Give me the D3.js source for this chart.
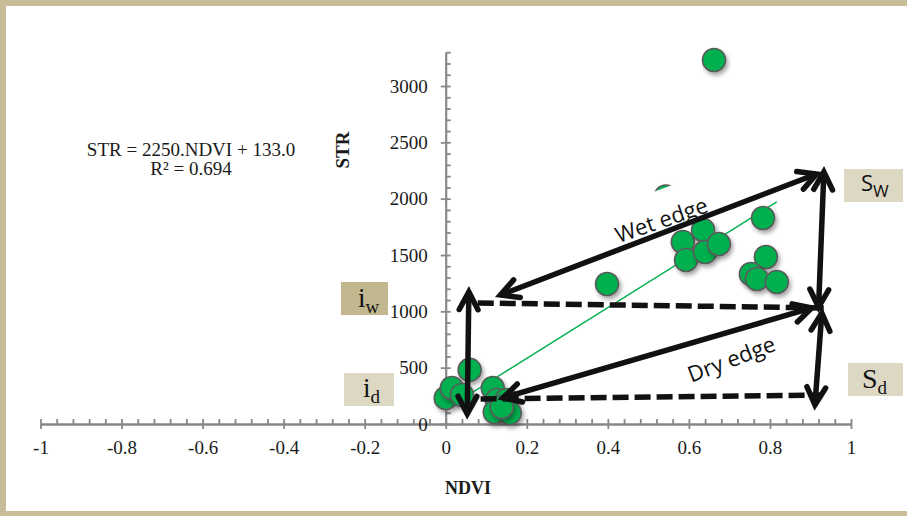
<!DOCTYPE html>
<html>
<head>
<meta charset="utf-8">
<script src="https://cdn.jsdelivr.net/npm/d3@7"></script>
<style>
body { margin: 0; background: #fff; overflow: hidden; }
svg { display: block; }
</style>
</head>
<body>
<svg id="chart"></svg>
<script>
// values
var ndvi = [0.662, 0.398, 0.585, 0.593, 0.635, 0.640, 0.674, 0.783, 0.790, 0.753, 0.768, 0.817,
            0.059, 0.000, 0.015, 0.040, 0.116, 0.126, 0.150, 0.121, 0.158, 0.138];
var str = [3231, 1243, 1615, 1456, 1722, 1527, 1598, 1828, 1482, 1331, 1287, 1260,
           480, 231, 320, 258, 320, 213, 213, 107, 98, 151];
var hiddenPoint = [0.543, 2019]; // mostly covered by the label box
var slope = 2250, intercept = 133.0;
var equation = ["STR = 2250.NDVI + 133.0", "R\u00b2 = 0.694"];

var xTicks = [-1, -0.8, -0.6, -0.4, -0.2, 0, 0.2, 0.4, 0.6, 0.8, 1];
var yTicks = [0, 500, 1000, 1500, 2000, 2500, 3000];

// annotation arrows / dashed lines, in data units [ndvi, str]
var wetEdge = [[0.135, 1145], [0.915, 2219]];
var dryEdge = [[0.141, 231], [0.903, 1030]];
var swArrow = [[0.933, 2237], [0.920, 1038]];
var sdArrow = [[0.928, 985], [0.911, 169]];
var leftArrow = [[0.057, 1172], [0.053, 89]];
var topDash = [[0.079, 1074], [0.938, 1030]];
var bottomDash = [[0.086, 222], [0.930, 257]];

var W = 907, H = 516;
var svg = d3.select("#chart").attr("width", W).attr("height", H);

var defs = svg.append("defs");
var f = defs.append("filter").attr("id", "shadow")
  .attr("x", "-50%").attr("y", "-50%").attr("width", "200%").attr("height", "200%");
f.append("feDropShadow").attr("dx", 2).attr("dy", 3).attr("stdDeviation", 2)
  .attr("flood-color", "#000").attr("flood-opacity", 0.35);

// frame
svg.append("rect").attr("x", 0).attr("y", 0).attr("width", W).attr("height", 6).attr("fill", "#c8bd98");
svg.append("rect").attr("x", 0).attr("y", 0).attr("width", 6).attr("height", H).attr("fill", "#c8bd98");
svg.append("rect").attr("x", 0).attr("y", 511).attr("width", W).attr("height", 5).attr("fill", "#c8bd98");

var x = d3.scaleLinear().domain([-1, 1]).range([40.5, 851]);
var y = d3.scaleLinear().domain([0, 3300]).range([424, 52.2]);

var axisColor = "#888";
var fmt = function(d) { return String(+d.toFixed(1)); };

// x axis
svg.append("g").attr("transform", "translate(0," + y(0) + ")")
  .call(d3.axisTop(x).tickValues(d3.range(0, 51).map(function(i) { return -1 + i * 0.04; }))
    .tickSize(5).tickSizeOuter(0).tickFormat(""));
svg.append("g").attr("transform", "translate(0," + y(0) + ")")
  .call(d3.axisBottom(x).tickValues(xTicks).tickSize(5).tickSizeOuter(0).tickPadding(12).tickFormat(fmt));

// y axis
svg.append("g").attr("transform", "translate(" + x(0) + ",0)")
  .call(d3.axisRight(y).tickValues(d3.range(0, 34).map(function(i) { return i * 100; }))
    .tickSize(5).tickSizeOuter(0).tickFormat(""));
svg.append("g").attr("transform", "translate(" + x(0) + ",0)")
  .call(d3.axisLeft(y).tickValues(yTicks).tickSize(5).tickSizeOuter(0).tickPadding(13).tickFormat(fmt));

svg.selectAll(".domain, .tick line").attr("stroke", axisColor).attr("stroke-width", 1.8);
svg.selectAll(".tick text").attr("font-family", "Liberation Serif").attr("font-size", 19).attr("fill", "#1a1a1a");

// axis titles
svg.append("text").attr("x", 468).attr("y", 494).attr("text-anchor", "middle")
  .attr("font-family", "Liberation Serif").attr("font-weight", "bold").attr("font-size", 18)
  .attr("fill", "#1a1a1a").text("NDVI");
svg.append("text").attr("transform", "translate(349,150) rotate(-90)").attr("text-anchor", "middle")
  .attr("font-family", "Liberation Serif").attr("font-weight", "bold").attr("font-size", 19)
  .attr("fill", "#1a1a1a").text("STR");

// equation
svg.append("g").selectAll("text").data(equation).enter().append("text")
  .attr("x", 191).attr("y", function(d, i) { return 156 + i * 19; })
  .attr("text-anchor", "middle").attr("font-family", "Liberation Serif").attr("font-size", 19)
  .attr("fill", "#1a1a1a").text(function(d) { return d; });

// trend line over data range
var xmin = d3.min(ndvi), xmax = d3.max(ndvi);
svg.append("line")
  .attr("x1", x(xmin)).attr("y1", y(slope * xmin + intercept))
  .attr("x2", x(xmax)).attr("y2", y(slope * xmax + intercept))
  .attr("stroke", "#00b050").attr("stroke-width", 1.4);

// points
var pts = [hiddenPoint].concat(ndvi.map(function(d, i) { return [d, str[i]]; }));
svg.append("g").selectAll("circle").data(pts).enter().append("circle")
  .attr("cx", function(d) { return x(d[0]); })
  .attr("cy", function(d) { return y(d[1]); })
  .attr("r", 11.5)
  .attr("fill", "#00b04f").attr("stroke", "#5a5a5a").attr("stroke-width", 1.6)
  .attr("filter", "url(#shadow)");

// white text box that hides most of one point
svg.append("rect").attr("x", -30).attr("y", -13).attr("width", 60).attr("height", 26)
  .attr("transform", "translate(661,203) rotate(-20)").attr("fill", "#fff");

// dashed lines
[topDash, bottomDash].forEach(function(seg) {
  svg.append("line")
    .attr("x1", x(seg[0][0])).attr("y1", y(seg[0][1]))
    .attr("x2", x(seg[1][0])).attr("y2", y(seg[1][1]))
    .attr("stroke", "#111").attr("stroke-width", 5.5).attr("stroke-dasharray", "16,6");
});

// double arrows
var headLen = 20, headAngle = 28 * Math.PI / 180;
function chevron(tip, from) {
  var ang = Math.atan2(from[1] - tip[1], from[0] - tip[0]);
  var a1 = ang + headAngle, a2 = ang - headAngle;
  return "M" + (tip[0] + headLen * Math.cos(a1)) + "," + (tip[1] + headLen * Math.sin(a1)) +
    "L" + tip[0] + "," + tip[1] +
    "L" + (tip[0] + headLen * Math.cos(a2)) + "," + (tip[1] + headLen * Math.sin(a2));
}
[wetEdge, dryEdge, swArrow, sdArrow, leftArrow].forEach(function(seg) {
  var p1 = [x(seg[0][0]), y(seg[0][1])], p2 = [x(seg[1][0]), y(seg[1][1])];
  var g = svg.append("g").attr("stroke", "#111").attr("stroke-width", 5.5).attr("fill", "none");
  g.append("line").attr("x1", p1[0]).attr("y1", p1[1]).attr("x2", p2[0]).attr("y2", p2[1]);
  g.append("path").attr("d", chevron(p1, p2)).attr("stroke-linejoin", "miter").attr("stroke-linecap", "round");
  g.append("path").attr("d", chevron(p2, p1)).attr("stroke-linejoin", "miter").attr("stroke-linecap", "round");
});

// edge labels
svg.append("text").attr("transform", "translate(661,219) rotate(-19)")
  .attr("text-anchor", "middle").attr("dominant-baseline", "central")
  .attr("font-family", "Open Sans").attr("font-size", 22).attr("fill", "#111").text("Wet edge");
svg.append("text").attr("transform", "translate(731,358) rotate(-21)")
  .attr("text-anchor", "middle").attr("dominant-baseline", "central")
  .attr("font-family", "Open Sans").attr("font-size", 22).attr("fill", "#111").text("Dry edge");

// boxed labels
function boxLabel(bx, by, bw, bh, fill, main, sub, tx, ty, font, mainSize, subSize) {
  svg.append("rect").attr("x", bx).attr("y", by).attr("width", bw).attr("height", bh).attr("fill", fill);
  var t = svg.append("text").attr("x", tx).attr("y", ty).attr("font-family", font)
    .attr("font-size", mainSize).attr("fill", "#111").text(main);
  t.append("tspan").attr("dy", 6).attr("font-size", subSize).text(sub);
}
boxLabel(341, 282, 47, 33, "#c3b790", "i", "w", 358, 307, "Liberation Serif", 27, 19);
boxLabel(344, 373, 50, 33, "#ddd8c4", "i", "d", 363, 397, "Liberation Serif", 27, 19);
boxLabel(844, 169, 59, 33, "#ddd8c4", "S", "W", 861, 191, "Open Sans", 22, 17);
boxLabel(848, 363, 55, 33, "#ddd8c4", "S", "d", 862, 388, "Liberation Serif", 28, 19);
</script>
</body>
</html>
